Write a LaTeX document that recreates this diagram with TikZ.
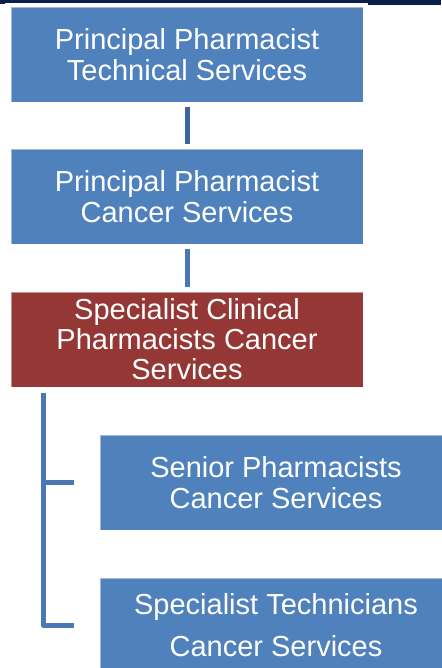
\documentclass[tikz,border=0pt]{standalone}
\usepackage{fontspec}
\setmainfont{Liberation Sans}
\usetikzlibrary{calc}
\definecolor{boxblue}{HTML}{4F81BD}
\definecolor{boxred}{HTML}{953735}
\definecolor{linkdark}{HTML}{3B6597}
\definecolor{linkblue}{HTML}{4A78B2}
\definecolor{navy}{HTML}{0C1E4A}
\tikzset{
  orgbox/.style={rectangle, fill=boxblue, draw=white, draw opacity=0.45, line width=0.8pt,
    minimum width=352pt, minimum height=95pt, inner sep=0pt, text=white, align=center,
    font=\fontsize{29}{31}\selectfont},
  redbox/.style={orgbox, fill=boxred},
  link/.style={line width=5pt, linkblue, shorten <=5pt, shorten >=5pt},
  bracket/.style={line width=5pt, linkblue, line join=round}
}
\begin{document}
\begin{tikzpicture}[x=1pt,y=-1pt]
\useasboundingbox (0,0) rectangle (441,668);
\fill[white] (0,0) rectangle (441,668);
\fill[navy] (0,0) rectangle (441,3);
\fill[navy] (0,3) rectangle (5,4);
\fill[navy] (368,3) rectangle (441,5);
\node[orgbox] (b1) at (187,54.5) {Principal Pharmacist\\Technical Services};
\node[orgbox] (b2) at (187,196.5) {Principal Pharmacist\\Cancer Services};
\node[redbox, font=\fontsize{29}{30}\selectfont] (b3) at (187,339.5) {Specialist Clinical\\Pharmacists Cancer\\Services};
\node[orgbox] (b4) at (276,482.5) {Senior Pharmacists\\Cancer Services};
\node[orgbox, font=\fontsize{29}{42}\selectfont] (b5) at (276,625.5) {Specialist Technicians\\Cancer Services};
\draw[link, linkdark] (b1) -- (b2);
\draw[link] (b2) -- (b3);
\coordinate (top) at ([xshift=33pt,yshift=-6pt]b3.south west);
\draw[bracket] (top) |- ([xshift=-26pt]b4.west);
\draw[bracket] (top) |- ([xshift=-26pt]b5.west);
\end{tikzpicture}
\end{document}
